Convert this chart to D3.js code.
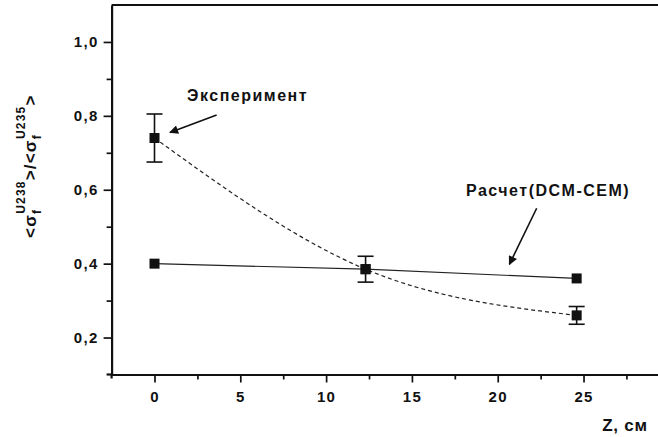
<!DOCTYPE html>
<html>
<head>
<meta charset="utf-8">
<script src="https://cdn.jsdelivr.net/npm/d3@7"></script>
<style>
  body { margin: 0; background: #fff; }
  text { font-family: "Liberation Sans", Arial, sans-serif; fill: #111; }
</style>
</head>
<body>
<svg id="chart" width="658" height="437"></svg>
<script>
// values
const zExp = [0, 12.3, 24.6];
const ratioExp = [0.74, 0.385, 0.26];
const errExp = [0.065, 0.035, 0.024];

const zCalc = [0, 12.3, 24.6];
const ratioCalc = [0.40, 0.385, 0.36];

const xMajor = [0, 5, 10, 15, 20, 25];
const xMinor = [2.5, 7.5, 12.5, 17.5, 22.5, 27.5];
const yMajor = [0.2, 0.4, 0.6, 0.8, 1.0];
const yMinor = [0.3, 0.5, 0.7, 0.9];

// annotation labels + arrows, in data units
const notes = [
  { text: "Эксперимент", tx: 1.9, ty: 0.839, from: [3.62, 0.802], to: [0.9, 0.755] },
  { text: "Расчет(DCM-CEM)", tx: 18.15, ty: 0.582, from: [22.27, 0.55], to: [20.68, 0.398] }
];

const svg = d3.select("#chart");
const x = d3.scaleLinear().domain([-2.5, 29.34]).range([111.6, 658]);
const y = d3.scaleLinear().domain([0.1, 1.1]).range([374.5, 5]);
const comma = v => d3.format(".1f")(v).replace(".", ",");

const defs = svg.append("defs");
defs.append("marker")
  .attr("id", "head")
  .attr("viewBox", "0 0 10 10")
  .attr("refX", 9).attr("refY", 5)
  .attr("markerWidth", 12).attr("markerHeight", 9)
  .attr("markerUnits", "userSpaceOnUse")
  .attr("orient", "auto")
  .append("path")
  .attr("d", "M0,0 L10,5 L0,10 Z")
  .style("fill", "#111");

// axes
svg.append("g").attr("transform", `translate(0,${y(0.1)})`)
  .call(d3.axisBottom(x).tickValues(xMajor).tickSize(8).tickSizeOuter(0).tickPadding(9));
svg.append("g").attr("transform", `translate(0,${y(0.1)})`)
  .call(d3.axisBottom(x).tickValues(xMinor).tickSize(5).tickFormat(""))
  .call(g => g.select(".domain").remove());

svg.append("g").attr("transform", `translate(${x(-2.5)},0)`)
  .call(d3.axisLeft(y).tickValues(yMajor).tickFormat(comma).tickSize(8).tickSizeOuter(0).tickPadding(5));
svg.append("g").attr("transform", `translate(${x(-2.5)},0)`)
  .call(d3.axisLeft(y).tickValues(yMinor).tickSize(5).tickFormat(""))
  .call(g => g.select(".domain").remove());

svg.selectAll(".domain").style("stroke", "#111").style("stroke-width", 2.2);
svg.selectAll(".tick line").style("stroke", "#111").style("stroke-width", 1.7);
svg.selectAll(".tick text")
  .style("font-size", "15px")
  .style("font-weight", "bold")
  .style("letter-spacing", "1.3px")
  .style("font-family", "'Liberation Sans', Arial, sans-serif")
  .style("fill", "#111");

// small overhang where the axes meet, and the top frame line
svg.append("line")
  .attr("x1", x(-2.5) - 5).attr("x2", x(-2.5))
  .attr("y1", y(0.1)).attr("y2", y(0.1))
  .style("stroke", "#111").style("stroke-width", 2.2);
svg.append("line")
  .attr("x1", x(-2.5)).attr("x2", x(-2.5))
  .attr("y1", y(0.1)).attr("y2", y(0.1) + 4)
  .style("stroke", "#111").style("stroke-width", 2.2);
svg.append("line")
  .attr("x1", x(-2.5)).attr("x2", x(29.34))
  .attr("y1", y(1.1)).attr("y2", y(1.1))
  .style("stroke", "#111").style("stroke-width", 2.2);

// axis titles
svg.append("text")
  .attr("x", 648).attr("y", 431)
  .attr("text-anchor", "end")
  .style("font-size", "17px").style("font-weight", "bold")
  .style("letter-spacing", "0.8px")
  .text("Z, см");

const yt = svg.append("text")
  .attr("transform", "translate(36,238) rotate(-90)")
  .style("font-size", "17px").style("font-weight", "bold")
  .style("letter-spacing", "1.2px");
yt.append("tspan").text("<σ");
yt.append("tspan").attr("dy", 5).style("font-size", "12px").text("f");
yt.append("tspan").attr("dx", -5).attr("dy", -16).style("font-size", "12px").text("U238");
yt.append("tspan").attr("dy", 11).text(">/<σ");
yt.append("tspan").attr("dy", 5).style("font-size", "12px").text("f");
yt.append("tspan").attr("dx", -5).attr("dy", -16).style("font-size", "12px").text("U235");
yt.append("tspan").attr("dy", 11).text(">");

// calculation: straight thin line through points
const calc = zCalc.map((z, i) => ({ z, v: ratioCalc[i] }));
svg.append("path")
  .datum(calc)
  .attr("d", d3.line().x(d => x(d.z)).y(d => y(d.v)))
  .style("fill", "none").style("stroke", "#222").style("stroke-width", 1.2);

// experiment: dashed smooth curve
const exp = zExp.map((z, i) => ({ z, v: ratioExp[i], e: errExp[i] }));
svg.append("path")
  .datum(exp)
  .attr("d", d3.line().curve(d3.curveMonotoneX).x(d => x(d.z)).y(d => y(d.v)))
  .style("fill", "none").style("stroke", "#222").style("stroke-width", 1.2)
  .style("stroke-dasharray", "4,3");

// error bars
const eb = svg.append("g").selectAll("g").data(exp).join("g")
  .style("stroke", "#111").style("stroke-width", 1.6);
eb.append("line")
  .attr("x1", d => x(d.z)).attr("x2", d => x(d.z))
  .attr("y1", d => y(d.v - d.e)).attr("y2", d => y(d.v + d.e));
eb.append("line")
  .attr("x1", d => x(d.z) - 8).attr("x2", d => x(d.z) + 8)
  .attr("y1", d => y(d.v + d.e)).attr("y2", d => y(d.v + d.e));
eb.append("line")
  .attr("x1", d => x(d.z) - 8).attr("x2", d => x(d.z) + 8)
  .attr("y1", d => y(d.v - d.e)).attr("y2", d => y(d.v - d.e));

// square markers
svg.append("g").selectAll("rect").data(calc.concat(exp)).join("rect")
  .attr("x", d => x(d.z) - 5).attr("y", d => y(d.v) - 5)
  .attr("width", 10).attr("height", 10)
  .style("fill", "#111");

// annotations
const ann = svg.append("g").selectAll("g").data(notes).join("g");
ann.append("text")
  .attr("x", d => x(d.tx)).attr("y", d => y(d.ty))
  .style("font-size", "16px").style("font-weight", "bold")
  .style("letter-spacing", "1.5px")
  .text(d => d.text);
ann.append("line")
  .attr("x1", d => x(d.from[0])).attr("y1", d => y(d.from[1]))
  .attr("x2", d => x(d.to[0])).attr("y2", d => y(d.to[1]))
  .style("stroke", "#111").style("stroke-width", 1.6)
  .attr("marker-end", "url(#head)");
</script>
</body>
</html>
